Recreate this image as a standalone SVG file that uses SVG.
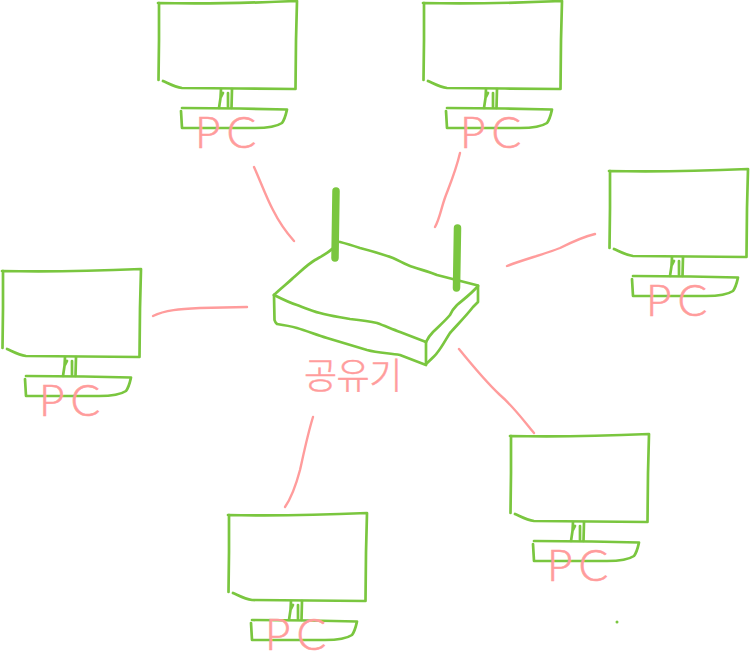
<svg xmlns="http://www.w3.org/2000/svg" width="750" height="660" viewBox="0 0 750 660">
<style>
.ln{fill:none;stroke:#7ac63f;stroke-width:2.700;stroke-linecap:round;stroke-linejoin:round}
.ant{fill:none;stroke:#7ac63f;stroke-width:7.500;stroke-linecap:round}
.wire{fill:none;stroke:#ff9c9c;stroke-width:2.400;stroke-linecap:round;stroke-linejoin:round}
.pc{font-family:"Lato","Liberation Sans",sans-serif;font-weight:300;font-size:44px;fill:#ff9c9c;stroke:#ff9c9c;stroke-width:.6;letter-spacing:6px}
.lab{font-family:"Noto Sans CJK KR","Noto Sans",sans-serif;font-weight:300;font-size:36px;fill:#ff9c9c;stroke:#ff9c9c;stroke-width:.5;letter-spacing:-.5px}
</style>
<defs>
<g id="monitor">
<path class="ln" d="M159,3L159,40L158.500,80M158,3C200,4 250,3 297,1L296,40L295.500,89L240,88.500L182,88C174,87 168,83 163,81"/>
<path class="ln" d="M221,89L220.500,98L219,108M232,89L231.500,108M221,97L223,93M228,93L228,107"/>
<path class="ln" d="M182,108L240,108.500L287,109.500C286,114 285,119 282,123C276,127 265,128 255,128L182,128L181,111"/>
</g>
</defs>
<g id="connectors">
<path class="wire" d="M254,167C260,180 266,197 273,210C279,222 286,232 294,241"/>
<path class="wire" d="M460,153C456,170 451,182 446,195C441,208 440,218 435,227"/>
<path class="wire" d="M507,266C522,260 545,254 560,248C572,242 582,237 595,234"/>
<path class="wire" d="M153,316C165,310 180,309 200,308L247,307"/>
<path class="wire" d="M459,349C472,365 485,381 500,395C513,406 524,421 534,433"/>
<path class="wire" d="M313,417C308,433 304,452 300,470C296,485 292,497 285,507"/>
</g>
<g id="router">
<path class="ln" d="M274,295C280,289 288,283 293,278C300,272 308,264 315,260C322,256 328,253 332,249M340,242C348,244 354,246 360,248C372,251 382,254 393,258C400,261 406,265 413,267C422,270 430,272 437,275L478,285.500"/>
<path class="ln" d="M274,295C282,299 290,303 297,305C305,308 312,311 320,313C330,316 340,317 350,319C360,320 369,321 377,323C385,326 392,329 400,332L426,342"/>
<path class="ln" d="M426,342C428,338 430,335 433,332C439,326 445,321 450,315C452,310 454,308 457,305C464,299 471,294 478,286"/>
<path class="ln" d="M274,295L274.500,320C275,322 276,323 277,324C284,325 290,326 297,328C307,331 317,335 327,338C340,342 354,346 367,350C378,353 389,353 400,355L426,365L426,342"/>
<path class="ln" d="M426,364C430,360 434,357 437,353C442,347 446,339 450,333C458,324 466,316 473,307L478,302L478,286"/>
<path class="ant" d="M336,191L335,258"/>
<path class="ant" d="M457.500,228L456.500,288"/>
<text class="lab" x="304" y="389">공유기</text>
</g>
<g id="pc1"><use href="#monitor"/><text class="pc" x="195" y="148">PC</text></g>
<g id="pc2"><use href="#monitor" transform="translate(265,0)"/><text class="pc" x="460" y="148">PC</text></g>
<g id="pc3"><use href="#monitor" transform="translate(451,168)"/><text class="pc" x="646" y="316">PC</text></g>
<g id="pc4"><use href="#monitor" transform="translate(-156,268)"/><text class="pc" x="39" y="416">PC</text></g>
<g id="pc5"><use href="#monitor" transform="translate(70,512)"/><text class="pc" x="265" y="650">PC</text></g>
<g id="pc6"><use href="#monitor" transform="translate(352,433)"/><text class="pc" x="547" y="581">PC</text></g>
<circle cx="617" cy="622" r="1.500" fill="#7ac63f"/>
</svg>
